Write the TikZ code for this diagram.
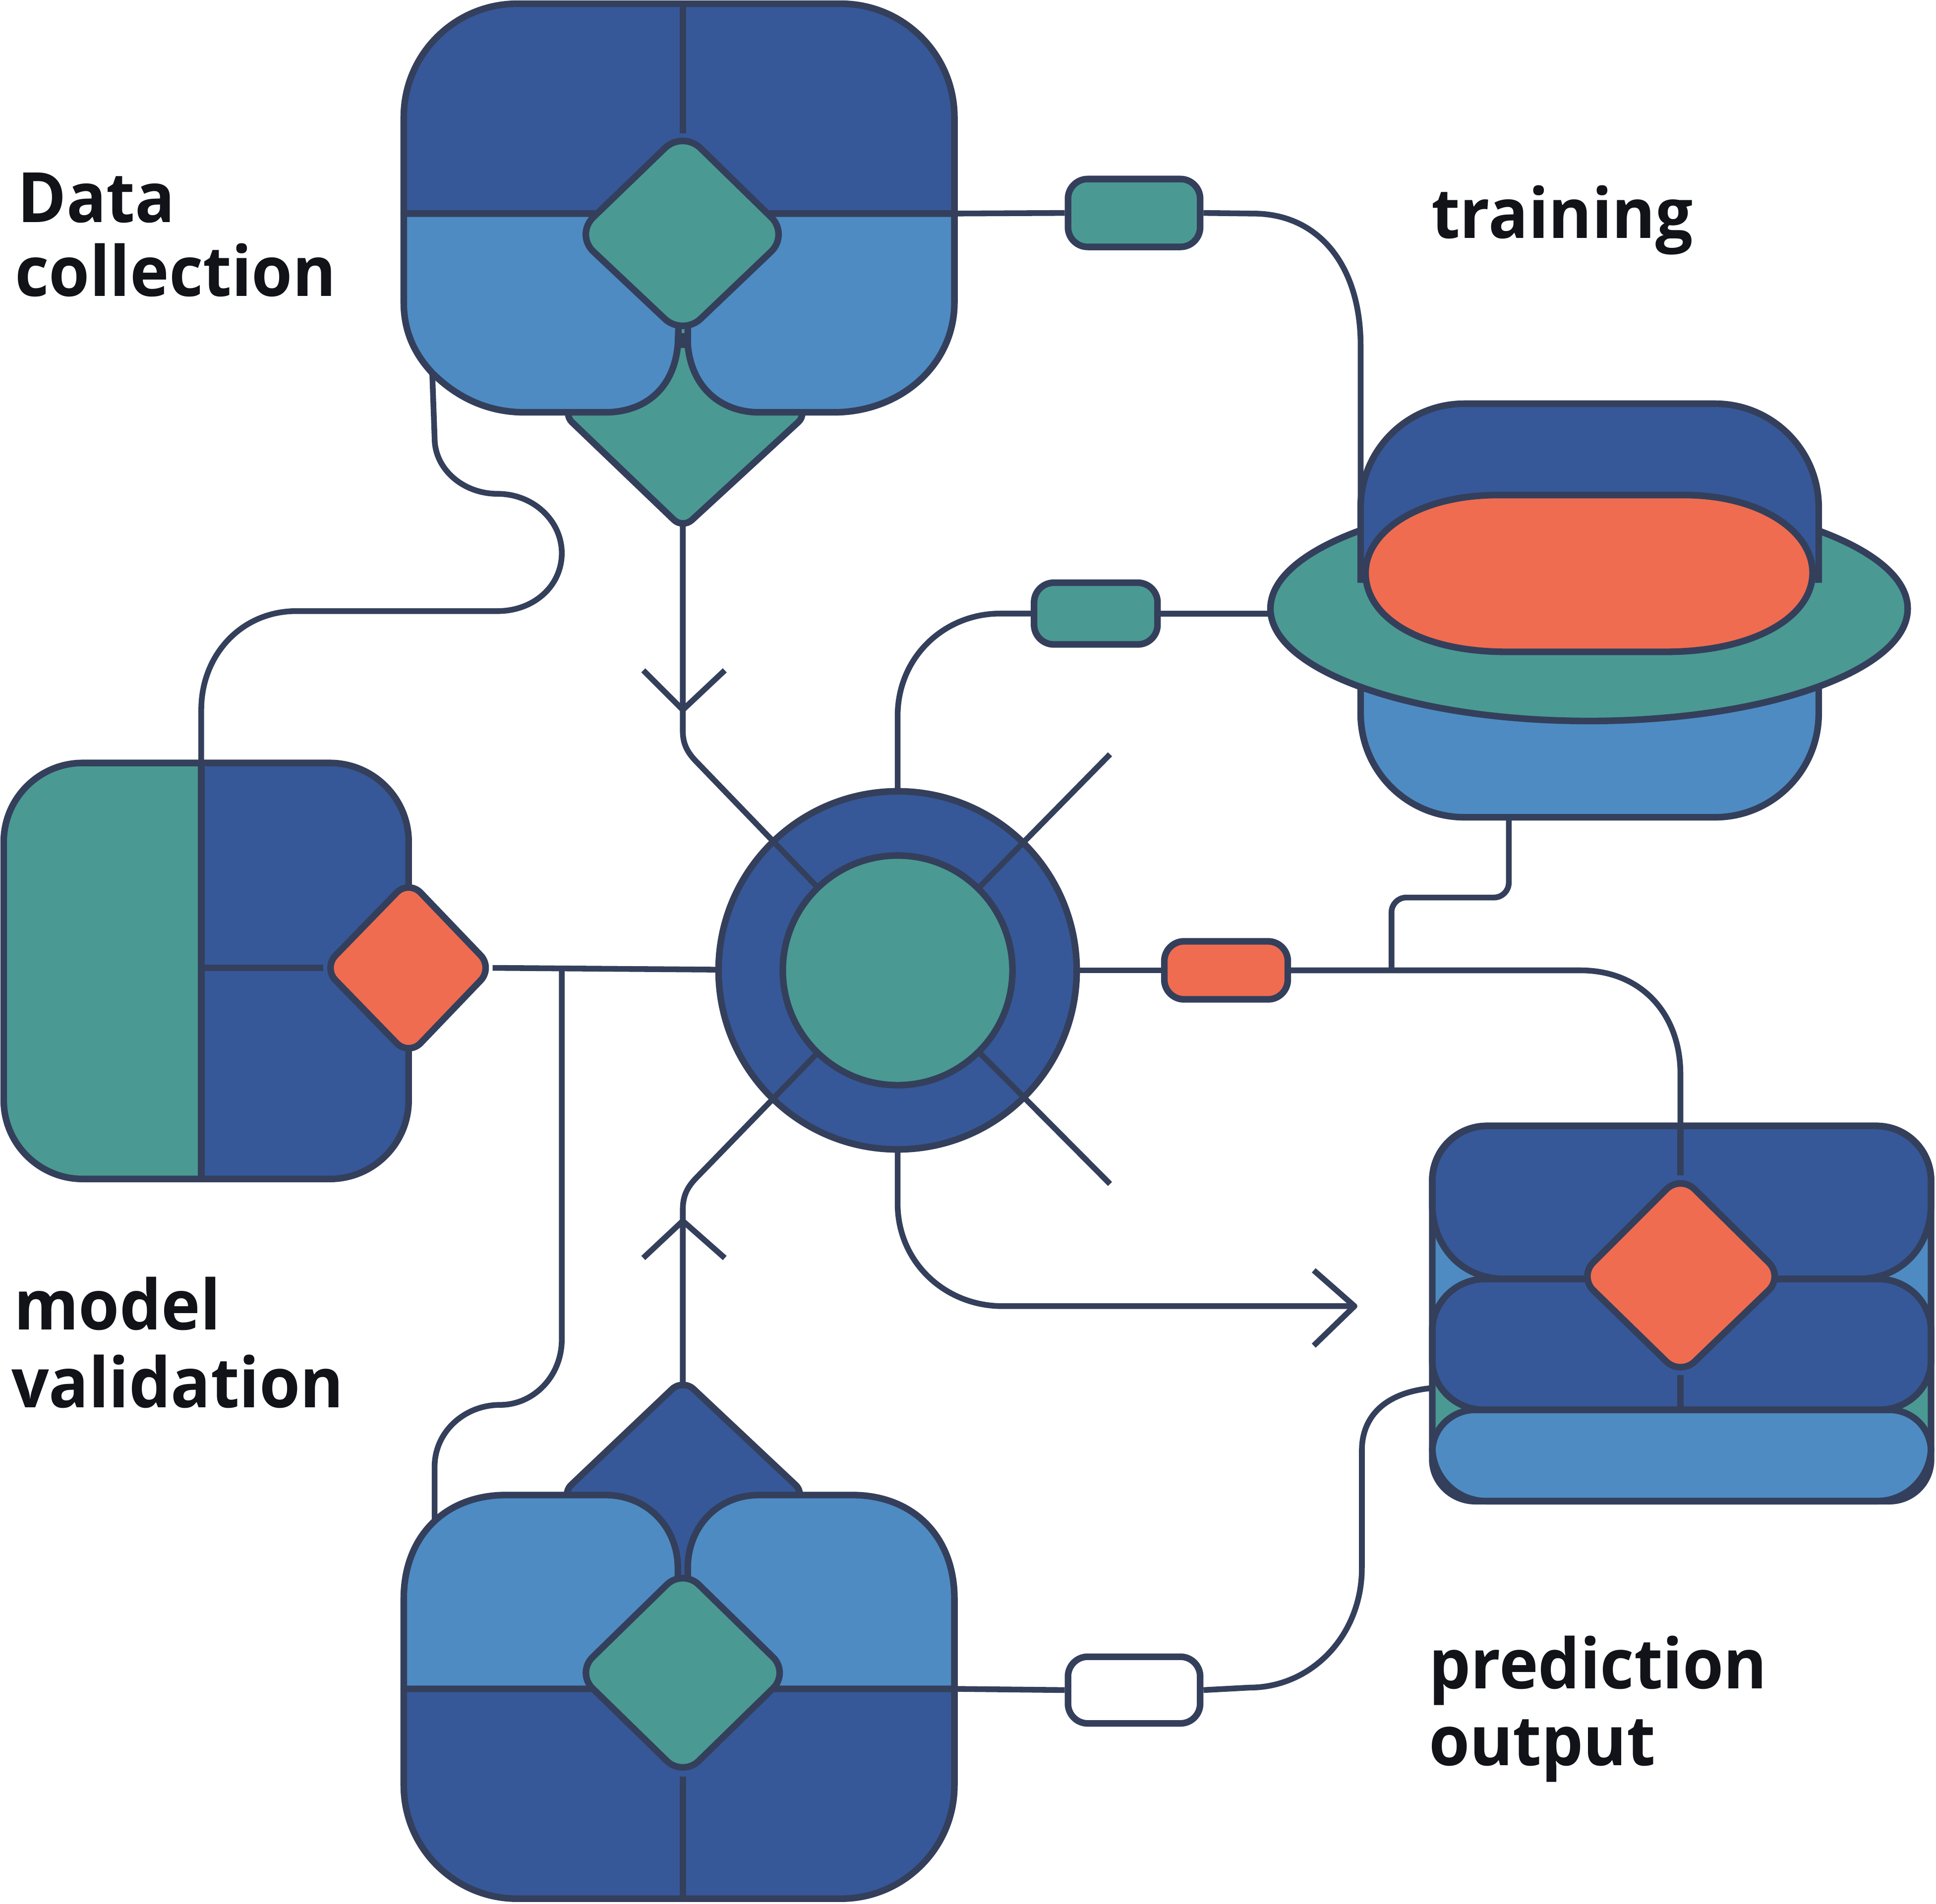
\documentclass[tikz,border=0pt]{standalone}
\usepackage{fontspec}
\newfontfamily\labfont{Open Sans}[FakeStretch=0.95]
\definecolor{dblue}{RGB}{54,88,152}
\definecolor{lblue}{RGB}{78,139,195}
\definecolor{tealc}{RGB}{74,154,147}
\definecolor{orng}{RGB}{240,108,80}
\definecolor{ink}{RGB}{52,63,92}
\definecolor{txt}{RGB}{17,19,24}
\begin{document}
\begin{tikzpicture}[x=0.025cm,y=-0.025cm,line join=round,
  conn/.style={draw=ink,line width=3.3pt},
  outl/.style={draw=ink,line width=3.8pt},
  pillbox/.style={draw=ink,line width=3.8pt,rounded corners=0.4cm,inner sep=0pt},
  lab/.style={anchor=base west,inner sep=0pt,text=txt,font=\labfont\bfseries\fontsize{40}{44}\selectfont}]
\useasboundingbox (0,0) rectangle (1568,1542.3);

% ---------- named points ----------
\coordinate (cc) at (727,786);
\coordinate (dcR) at (770,173);
\coordinate (dcBL) at (350,300);
\coordinate (dcV) at (553,425);
\coordinate (trL) at (1102,430);
\coordinate (trB) at (1222,650);
\coordinate (ellL) at (1032,497);
\coordinate (lvR) at (399,784);
\coordinate (lvT) at (163,630);
\coordinate (bbL) at (352,1250);
\coordinate (bbR) at (770,1368);
\coordinate (bbT) at (553,1130);
\coordinate (prT) at (1361,930);
\coordinate (prL) at (1165,1124);
\coordinate (arrD) at (553,575);
\coordinate (arrU) at (553,989);
\coordinate (arrR) at (1097,1058);
\coordinate (spA) at (899,611);
\coordinate (spB) at (899,959);
\coordinate (brA) at (455,784);
\coordinate (brB) at (1127,786);

% ---------- pills ----------
\node[pillbox,fill=tealc,minimum width=2.675cm,minimum height=1.375cm] (p1) at (918.5,172.5) {};
\node[pillbox,fill=tealc,minimum width=2.5cm,minimum height=1.25cm] (p2) at (887.5,497) {};
\node[pillbox,fill=orng,minimum width=2.5cm,minimum height=1.175cm] (p3) at (993,786) {};
\node[pillbox,fill=white,minimum width=2.675cm,minimum height=1.35cm] (p4) at (918.5,1369) {};

% ---------- background connectors ----------
\draw[conn] (dcR) -- (p1.west);
\draw[conn] (p1.east) -- (1015,173) .. controls (1068,173) and (1102,215) .. (1102,280) -- (trL);
\draw[conn] (727,700) -- (727,580) .. controls (727,532) and (765,497) .. (810,497) -- (p2.west);
\draw[conn] (p2.east) -- (ellL);
\draw[conn] (800,786) -- (p3.west);
\draw[conn] (p3.east) -- (1280,786) .. controls (1330,786) and (1361,822) .. (1361,870) -- (prT);
\draw[conn,rounded corners=0.3cm] (brB) -- (1127,727) -- (1222,727) -- (trB);
\draw[conn] (650,786) -- (lvR);
\draw[conn] (brA) -- (455,1085) .. controls (455,1115) and (432,1138) .. (405,1138) .. controls (376,1138) and (352,1160) .. (352,1188) -- (bbL);
\draw[conn] (727,870) -- (727,975) .. controls (727,1022) and (765,1058) .. (812,1058) -- (arrR);
\draw[conn] ([shift={(-33,-29)}]arrR) -- (arrR) -- ([shift={(-33,32)}]arrR);
\draw[conn] (dcBL) -- (352,355) .. controls (352,380) and (375,400) .. (403,400) .. controls (432,400) and (455,422) .. (455,448) .. controls (455,475) and (432,495) .. (403,495) -- (240,495) .. controls (196,495) and (163,530) .. (163,575) -- (lvT);
\draw[conn] (bbR) -- (p4.west);
\draw[conn] (p4.east) -- (1012,1367) .. controls (1062,1367) and (1103,1325) .. (1103,1270) -- (1103,1175) .. controls (1103,1145) and (1125,1126) .. (prL);

% ---------- central hub ----------
\node[circle,outl,fill=dblue,minimum size=7.25cm,inner sep=0pt] (ring) at (cc) {};
\draw[conn] (dcV) -- (arrD) -- (553,592) .. controls (553,603) and (557,610) .. (565,618) -- (cc);
\draw[conn] ([shift={(-32,-32)}]arrD) -- (arrD) -- ([shift={(34,-32)}]arrD);
\draw[conn] (cc) -- (565,953) .. controls (557,961) and (553,968) .. (553,980) -- (arrU) -- (bbT);
\draw[conn] ([shift={(-32,30)}]arrU) -- (arrU) -- ([shift={(34,30)}]arrU);
\draw[conn] (cc) -- (spA);
\draw[conn] (cc) -- (spB);
\node[circle,outl,fill=tealc,minimum size=4.65cm,inner sep=0pt] (core) at (cc) {};

% ---------- Data collection block ----------
\filldraw[outl,fill=tealc,rounded corners=0.25cm] (456,335) -- (553,428) -- (654,335) -- (553,240) -- cycle;
\begin{scope}
\clip (300,-10) rectangle (800,173);
\fill[dblue,rounded corners=2.3cm] (327,3) rectangle (773,400);
\end{scope}
\draw[outl,rounded corners=2.3cm] (327,173) -- (327,3) -- (773,3) -- (773,173);
\filldraw[outl,fill=lblue] (327,173) -- (553,173) -- (549,279) .. controls (546,315) and (522,334) .. (490,334) -- (425,334) .. controls (395,334) and (370,322) .. (350,302) .. controls (337,288) and (327,270) .. (327,245) -- cycle;
\filldraw[outl,fill=lblue] (773,173) -- (557,173) -- (557,279) .. controls (560,315) and (585,334) .. (615,334) -- (675,334) .. controls (730,334) and (773,295) .. (773,245) -- cycle;
\draw[outl] (553,3) -- (553,108);
\filldraw[outl,fill=tealc,rounded corners=0.5cm] (553,106) -- (639,190) -- (553,272) -- (466,190) -- cycle;
\draw[outl] (553,270) -- (553,282);

% ---------- training block ----------
\begin{scope}
\clip (1090,495) rectangle (1490,680);
\fill[lblue,rounded corners=2.1cm] (1102,327) rectangle (1473,662);
\end{scope}
\draw[outl,rounded corners=2.1cm] (1102,480) -- (1102,662) -- (1473,662) -- (1473,480);
\filldraw[outl,fill=tealc] (1287,493) ellipse [x radius=6.45cm,y radius=2.275cm];
\begin{scope}
\clip (1090,300) rectangle (1490,472);
\fill[dblue,rounded corners=2.1cm] (1102,327) rectangle (1473,662);
\end{scope}
\draw[outl,rounded corners=2.1cm] (1102,472) -- (1102,327) -- (1473,327) -- (1473,472);
\filldraw[outl,fill=orng] (1213,401) -- (1364,401) .. controls (1425,401) and (1468,430) .. (1468,464) .. controls (1468,500) and (1420,528) .. (1349,528) -- (1220,528) .. controls (1150,528) and (1106,500) .. (1106,464) .. controls (1106,430) and (1150,401) .. (1213,401) -- cycle;

% ---------- model validation block ----------
\fill[dblue,rounded corners=1.6cm] (3,618) rectangle (331,955);
\begin{scope}
\clip (-10,600) rectangle (163,970);
\fill[tealc,rounded corners=1.6cm] (3,618) rectangle (331,955);
\end{scope}
\draw[outl,rounded corners=1.6cm] (3,618) rectangle (331,955);
\draw[outl] (163,618) -- (163,955);
\draw[outl] (163,784) -- (262,784);
\filldraw[outl,fill=orng,rounded corners=0.35cm] (331,713) -- (399,784) -- (331,855) -- (262,784) -- cycle;

% ---------- bottom block ----------
\filldraw[outl,fill=dblue,rounded corners=0.3cm] (454,1211) -- (553,1117) -- (653,1211) -- (553,1300) -- cycle;
\begin{scope}
\clip (300,1368) rectangle (800,1560);
\fill[dblue,rounded corners=2.3cm] (327,1200) rectangle (773,1538);
\end{scope}
\draw[outl,rounded corners=2.3cm] (327,1368) -- (327,1538) -- (773,1538) -- (773,1368);
\filldraw[outl,fill=lblue] (327,1368) -- (327,1295) .. controls (327,1245) and (360,1211) .. (410,1211) -- (490,1211) .. controls (525,1211) and (549,1238) .. (549,1270) -- (549,1368) -- cycle;
\filldraw[outl,fill=lblue] (773,1368) -- (773,1295) .. controls (773,1245) and (740,1211) .. (690,1211) -- (615,1211) .. controls (580,1211) and (557,1238) .. (557,1270) -- (557,1368) -- cycle;
\draw[outl] (553,1439) -- (553,1538);
\filldraw[outl,fill=tealc,rounded corners=0.45cm] (553,1271) -- (639,1355) -- (553,1439) -- (467,1355) -- cycle;

% ---------- prediction block ----------
\fill[lblue,rounded corners=1.1cm] (1160,912) rectangle (1564,1216);
\begin{scope}
\clip (1150,1090) rectangle (1580,1230);
\fill[tealc,rounded corners=1.1cm] (1160,912) rectangle (1564,1216);
\end{scope}
\filldraw[outl,fill=dblue] (1205,912) -- (1519,912) .. controls (1544,912) and (1564,932) .. (1564,957) -- (1564,975) .. controls (1564,1010) and (1540,1036) .. (1505,1036) -- (1219,1036) .. controls (1184,1036) and (1160,1010) .. (1160,975) -- (1160,957) .. controls (1160,932) and (1180,912) .. (1205,912) -- cycle;
\filldraw[outl,fill=dblue] (1203,1036) -- (1521,1036) .. controls (1545,1036) and (1564,1055) .. (1564,1078) -- (1564,1102) .. controls (1564,1124) and (1545,1142) .. (1522,1142) -- (1202,1142) .. controls (1179,1142) and (1160,1124) .. (1160,1102) -- (1160,1078) .. controls (1160,1055) and (1179,1036) .. (1203,1036) -- cycle;
\filldraw[outl,fill=lblue] (1195,1142) -- (1530,1142) .. controls (1549,1142) and (1564,1157) .. (1564,1176) -- (1564,1182) .. controls (1564,1201) and (1549,1216) .. (1530,1216) -- (1195,1216) .. controls (1176,1216) and (1160,1201) .. (1160,1182) -- (1160,1176) .. controls (1160,1157) and (1176,1142) .. (1195,1142) -- cycle;
\draw[outl,rounded corners=1.1cm] (1160,912) rectangle (1564,1216);
\draw[outl] (1361,912) -- (1361,952);
\draw[outl] (1361,1114) -- (1361,1142);
\filldraw[outl,fill=orng,rounded corners=0.4cm] (1361,952) -- (1444,1034) -- (1361,1114) -- (1279,1034) -- cycle;

% ---------- labels ----------
\node[lab] (t1) at (14,180) {Data};
\node[lab] (t2) at (12,240) {collection};
\node[lab] (t3) at (1159,193) {training};
\node[lab] (t4) at (11,1077) {model};
\node[lab] (t5) at (9,1140) {validation};
\node[lab] (t6) at (1157,1368) {prediction};
\node[lab] (t7) at (1157,1430) {output};
\end{tikzpicture}
\end{document}
